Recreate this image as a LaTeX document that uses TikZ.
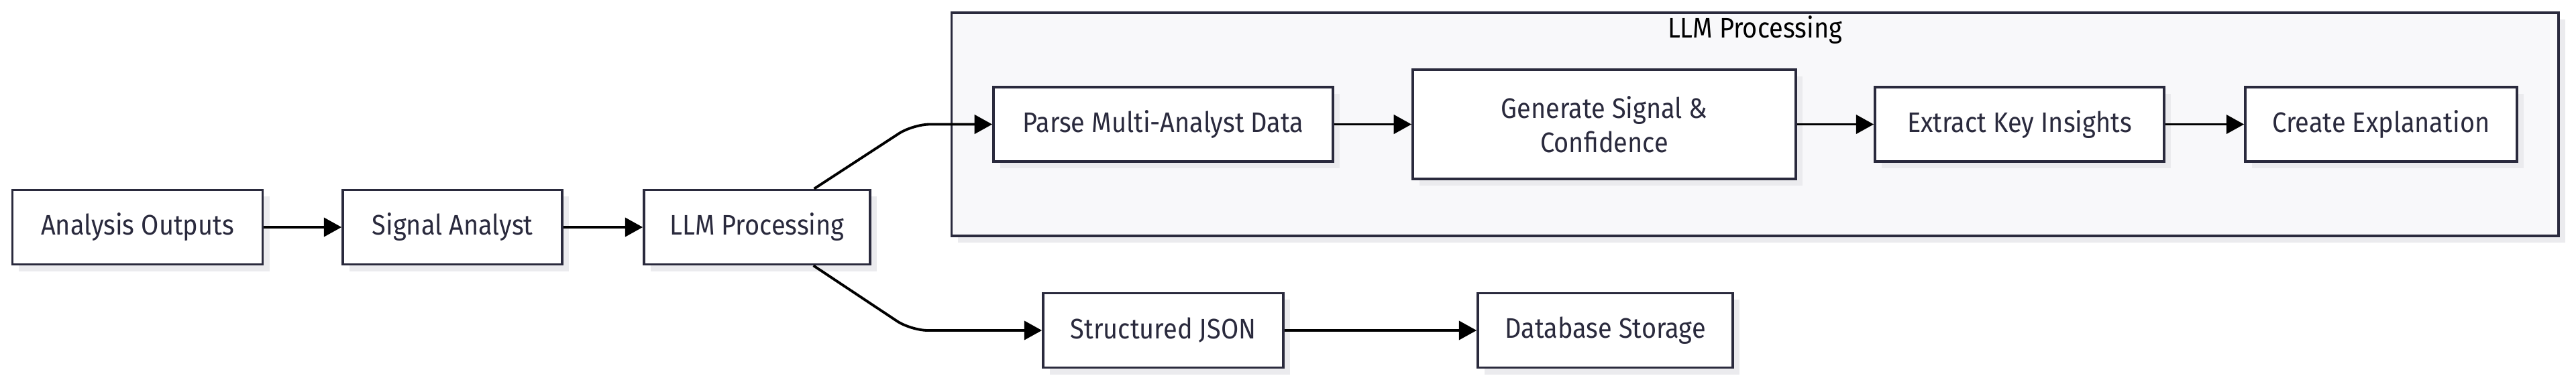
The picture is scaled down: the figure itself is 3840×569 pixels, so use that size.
\documentclass[tikz,border=0pt]{standalone}
\usepackage{fontspec}
\setmainfont{Fira Sans}[FakeStretch=0.9]
\usetikzlibrary{arrows.meta,shadows,positioning}
\definecolor{boxline}{HTML}{2A2A3D}
\definecolor{groupfill}{HTML}{F8F8FA}
\definecolor{shadowgray}{HTML}{EBEBEE}

\begin{document}
\begin{tikzpicture}[x=0.01cm,y=-0.01cm,>={Triangle[length=7.5pt,width=8pt]},
  proc node/.style={draw=boxline,line width=1pt,fill=white,text=boxline,font=\fontsize{12}{14.5}\selectfont,minimum height=1.11cm,inner sep=0pt,align=center,drop shadow={shadow xshift=0.1cm,shadow yshift=-0.1cm,fill=shadowgray,opacity=1}},
  group box/.style={draw=boxline,line width=1pt,fill=groupfill,inner sep=0pt,drop shadow={shadow xshift=0.1cm,shadow yshift=-0.1cm,fill=shadowgray,opacity=1}},
  group title/.style={text=black,font=\fontsize{12}{14.5}\selectfont,inner sep=0pt},
  link/.style={->,line width=1.1pt,black,rounded corners=0.25cm}]
            \useasboundingbox (0,0) rectangle (3840,569);

            \node[group box, minimum width=23.94cm, minimum height=3.33cm] (grp) at (2616,185.5) {};
            \node[group title] (grptitle) at (2616,45) {LLM Processing};

            \node[proc node, minimum width=3.73cm] (ao) at (205,339) {Analysis Outputs};
            \node[proc node, minimum width=3.27cm] (sa) at (674.5,339) {Signal Analyst};
            \node[proc node, minimum width=3.37cm] (llm) at (1128.5,339) {LLM Processing};

            \node[proc node, minimum width=5.06cm] (parse) at (1734,185.5) {Parse Multi-Analyst Data};
            \node[proc node, minimum width=5.71cm, minimum height=1.63cm] (gen) at (2391.5,185.5) {Generate Signal \&\\Confidence};
            \node[proc node, minimum width=4.31cm] (ext) at (3010.5,185.5) {Extract Key Insights};
            \node[proc node, minimum width=4.05cm] (cre) at (3549.5,185.5) {Create Explanation};

            \node[proc node, minimum width=3.58cm] (json) at (1734,493) {Structured JSON};
            \node[proc node, minimum width=3.80cm] (db) at (2393,493) {Database Storage};

            \coordinate (upbend) at (1361,185.5);
            \coordinate (downbend) at (1358,493);

            \draw[link] (ao) -- (sa);
            \draw[link] (sa) -- (llm);
            \draw[link] ([xshift=0.85cm]llm.north) -- (upbend) -- (parse);
            \draw[link] ([xshift=0.84cm]llm.south) -- (downbend) -- (json);
            \draw[link] (parse) -- (gen);
            \draw[link] (gen) -- (ext);
            \draw[link] (ext) -- (cre);
            \draw[link] (json) -- (db);
\end{tikzpicture}
\end{document}
